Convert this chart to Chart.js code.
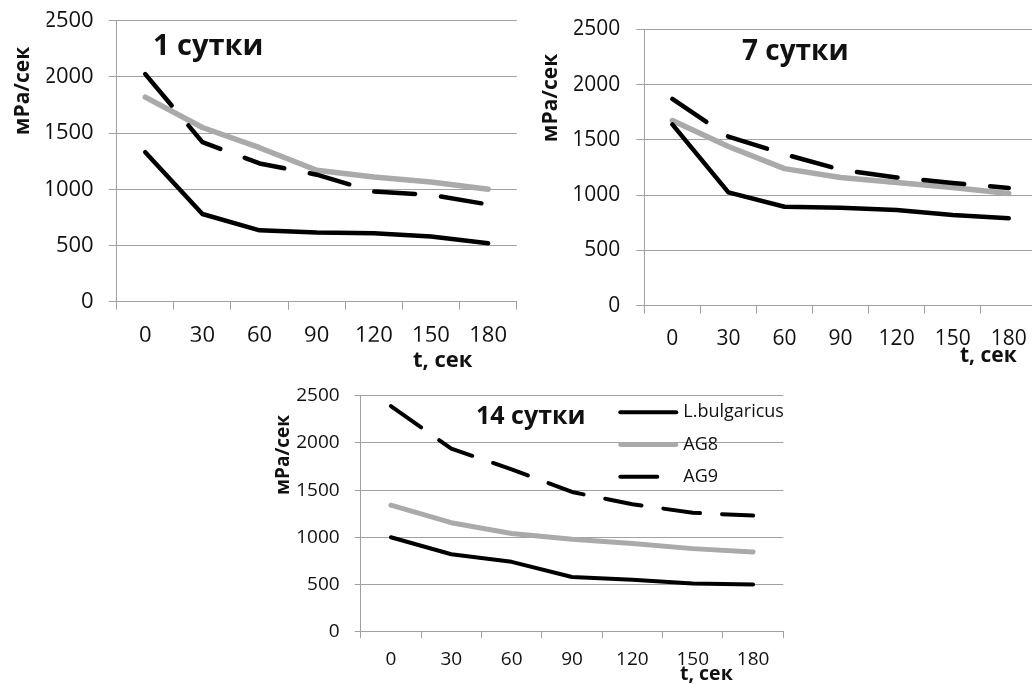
<!DOCTYPE html>
<html>
<head>
<meta charset="utf-8">
<script src="https://cdn.jsdelivr.net/npm/chart.js@4.4.1/dist/chart.umd.min.js"></script>
<style>
  html, body { margin: 0; padding: 0; background: #ffffff; overflow: hidden; width: 1032px; height: 685px; }
  canvas { position: absolute; left: 0; top: 0; }
</style>
</head>
<body>
<canvas id="day1" width="1032" height="685"></canvas>
<canvas id="day7" width="1060" height="685"></canvas>
<canvas id="day14" width="1032" height="685"></canvas>
<script>
// Shared categories and axis ticks
const timeLabels = ['0', '30', '60', '90', '120', '150', '180'];
const seriesNames = ['L.bulgaricus', 'AG8', 'AG9'];
const yTicks = [0, 500, 1000, 1500, 2000, 2500];
const yAxisTitle = 'мРа/сек';
const xAxisTitle = 't, сек';

// Viscosity, mPa/s — 1 day of storage
const day1Bulgaricus = [1330, 780, 635, 615, 610, 580, 520];
const day1AG8 = [1820, 1550, 1370, 1170, 1110, 1065, 1000];
const day1AG9 = [2025, 1420, 1230, 1130, 980, 950, 865];

// 7 days of storage
const day7Bulgaricus = [1640, 1025, 895, 885, 865, 820, 790];
const day7AG8 = [1675, 1440, 1240, 1160, 1115, 1070, 1015];
const day7AG9 = [1870, 1530, 1370, 1230, 1160, 1110, 1065];

// 14 days of storage
const day14Bulgaricus = [1000, 820, 740, 580, 550, 510, 500];
const day14AG8 = [1340, 1155, 1040, 980, 935, 880, 845];
const day14AG9 = [2390, 1940, 1720, 1480, 1350, 1260, 1230];

const FONT = "'Open Sans', sans-serif";
const INK = '#111111';
const GRID = '#a0a0a0';
const BLACK = '#000000';
const GRAY = '#aaaaaa';

// Draws the panel heading, axis titles and (optionally) the legend
const panelLabels = {
  id: 'panelLabels',
  afterDraw(chart, args, o) {
    const ctx = chart.ctx;
    ctx.save();
    ctx.fillStyle = INK;
    ctx.textAlign = 'left';
    ctx.textBaseline = 'alphabetic';
    ctx.font = `bold ${o.heading.size}px ${FONT}`;
    ctx.fillText(o.heading.text, o.heading.x, o.heading.y);
    ctx.font = `bold ${o.xTitle.size}px ${FONT}`;
    ctx.fillText(xAxisTitle, o.xTitle.x, o.xTitle.y);
    ctx.translate(o.yTitle.x, o.yTitle.y);
    ctx.rotate(-Math.PI / 2);
    ctx.font = `bold ${o.yTitle.size}px ${FONT}`;
    ctx.textAlign = 'center';
    ctx.textBaseline = 'middle';
    ctx.fillText(yAxisTitle, 0, 0);
    ctx.restore();

    if (o.legend) {
      const L = o.legend;
      chart.data.datasets.forEach((ds, i) => {
        const y = L.y + i * L.rowGap;
        ctx.save();
        ctx.strokeStyle = ds.borderColor;
        ctx.lineWidth = ds.borderWidth;
        ctx.lineCap = ds.borderCapStyle || 'butt';
        ctx.setLineDash(ds.borderDash || []);
        ctx.beginPath();
        ctx.moveTo(L.x + ds.borderWidth / 2, y);
        ctx.lineTo(L.x + L.lineLen - ds.borderWidth / 2, y);
        ctx.stroke();
        ctx.setLineDash([]);
        ctx.fillStyle = INK;
        ctx.font = `${L.size}px ${FONT}`;
        ctx.textAlign = 'left';
        ctx.textBaseline = 'middle';
        ctx.fillText(ds.label, L.x + L.lineLen + L.gap, y);
        ctx.restore();
      });
    }
  }
};

function makePanel(id, values, p) {
  const canvas = document.getElementById(id);
  const W = canvas.width, H = canvas.height;
  const yw = 70, xh = 40;
  const datasets = [
    { label: seriesNames[0], data: values[0], borderColor: BLACK, borderWidth: p.blackW, order: 1 },
    { label: seriesNames[1], data: values[1], borderColor: GRAY, borderWidth: p.grayW, order: 2 },
    { label: seriesNames[2], data: values[2], borderColor: BLACK, borderWidth: p.blackW, borderDash: p.dash, order: 0 }
  ].map(d => Object.assign({
    pointRadius: 0, pointHoverRadius: 0, tension: 0, fill: false,
    borderCapStyle: 'round', borderJoinStyle: 'round'
  }, d));

  return new Chart(canvas, {
    type: 'line',
    data: { labels: timeLabels, datasets },
    plugins: [panelLabels],
    options: {
      responsive: false,
      animation: false,
      devicePixelRatio: 1,
      events: [],
      layout: {
        padding: { left: p.left - yw, top: p.top, right: W - p.right, bottom: H - p.bottom - xh }
      },
      plugins: {
        legend: { display: false },
        tooltip: { enabled: false },
        title: { display: false },
        panelLabels: p.labels
      },
      scales: {
        x: {
          type: 'category',
          offset: true,
          afterFit(s) { s.height = xh; s.paddingLeft = 0; s.paddingRight = 0; },
          grid: { offset: true, drawOnChartArea: false, drawTicks: true, tickLength: p.xTick, color: GRID, lineWidth: 1 },
          border: { display: true, color: GRID, width: 1 },
          ticks: { color: INK, font: { family: FONT, size: p.font }, padding: p.xPad, maxRotation: 0, autoSkip: false }
        },
        y: {
          min: 0, max: 2500,
          // fixed axis box; the plot edges come from the layout padding alone
          afterFit(s) { s.width = yw; s.paddingTop = 0; s.paddingBottom = 0; },
          afterBuildTicks(s) { s.ticks = yTicks.map(v => ({ value: v })); },
          grid: { drawTicks: true, tickLength: p.yTick, color: GRID, lineWidth: 1 },
          border: { display: true, color: GRID, width: 1 },
          ticks: { color: INK, font: { family: FONT, size: p.font }, padding: p.yPad, callback: v => String(v) }
        }
      }
    }
  });
}

makePanel('day1', [day1Bulgaricus, day1AG8, day1AG9], {
  left: 116.7, top: 20.7, right: 516.7, bottom: 301.7,
  font: 22, xTick: 8, xPad: 13, yTick: 8, yPad: 15,
  blackW: 4.5, grayW: 5.5, dash: [41, 26],
  labels: {
    heading: { text: '1 сутки', x: 153, y: 55, size: 29 },
    xTitle: { x: 413, y: 367, size: 22 },
    yTitle: { x: 23.5, y: 91, size: 21 }
  }
});

makePanel('day7', [day7Bulgaricus, day7AG8, day7AG9], {
  left: 644.3, top: 29.3, right: 1036.8, bottom: 305.7,
  font: 21, xTick: 8, xPad: 13, yTick: 8, yPad: 16,
  blackW: 4.5, grayW: 5.5, dash: [41, 26],
  labels: {
    heading: { text: '7 сутки', x: 742, y: 60, size: 28 },
    xTitle: { x: 960, y: 362, size: 21 },
    yTitle: { x: 551.5, y: 98, size: 21 }
  }
});

makePanel('day14', [day14Bulgaricus, day14AG8, day14AG9], {
  left: 360.7, top: 395.7, right: 783.3, bottom: 631.7,
  font: 19, xTick: 6.5, xPad: 10, yTick: 6, yPad: 15,
  blackW: 4, grayW: 5, dash: [37, 22],
  labels: {
    heading: { text: '14 сутки', x: 476, y: 423.5, size: 25 },
    xTitle: { x: 680, y: 680, size: 19.5 },
    yTitle: { x: 284, y: 455, size: 19 },
    legend: { x: 618.3, y: 412.3, rowGap: 32.2, lineLen: 60, gap: 5, size: 18 }
  }
});
</script>
</body>
</html>
